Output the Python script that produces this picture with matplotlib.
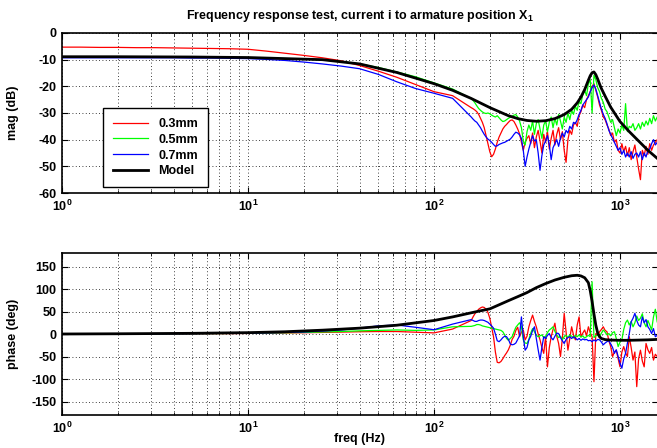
import numpy as np
import matplotlib
matplotlib.use("Agg")
import matplotlib.pyplot as plt
from matplotlib.ticker import FixedLocator, FixedFormatter, LogLocator, NullFormatter

# ---------------- data ----------------
# measurement frequency grid (Hz)
freq = np.concatenate([10 ** np.linspace(0.0, 2.1, 22), 10 ** np.linspace(2.2, 3.2, 101)])

mag_03 = [-5.3, -5.3, -5.4, -5.4, -5.5, -5.5, -5.6, -5.7, -5.8, -5.9, -6.1, -6.8, -7.6, -8.4, -9.3, -10.4,
          -12.2, -14.3, -16.6, -19.3, -22.0, -23.5,
          -28.0, -28.4, -28.9, -29.5, -30.5, -32.0, -33.5, -35.5, -38.5, -41.5,
          -44.5, -46.4, -45.5, -43.5, -41.0, -39.0, -37.5, -36.0, -35.0, -34.3,
          -33.5, -32.8, -32.6, -33.2, -34.5, -36.0, -37.8, -41.0, -44.0, -41.0,
          -39.5, -38.5, -41.5, -37.5, -43.0, -39.0, -36.5, -40.5, -45.0, -38.0,
          -41.0, -37.0, -43.5, -39.5, -36.5, -42.0, -38.0, -35.5, -40.0, -37.0,
          -44.0, -48.5, -40.0, -36.5, -38.0, -34.5, -33.5, -35.0, -31.0, -29.5,
          -27.0, -28.0, -25.0, -23.5, -22.0, -20.0, -19.0, -21.5, -24.0, -27.0,
          -29.0, -31.5, -32.5, -34.5, -36.0, -38.5, -37.5, -41.0, -40.0, -44.0,
          -45.0, -41.5, -44.5, -42.5, -46.0, -43.0, -47.5, -44.5, -42.0, -46.5,
          -51.0, -55.0, -44.0, -46.0, -42.5, -45.5, -41.5, -44.0, -42.0, -41.0, -40.0]

mag_05 = [-9.0, -9.0, -9.0, -9.0, -9.0, -9.0, -9.1, -9.1, -9.1, -9.2, -9.2, -9.4, -9.6, -9.8, -10.1, -10.7,
          -11.6, -12.9, -14.6, -16.4, -18.7, -21.0,
          -24.6, -25.3, -26.2, -27.3, -28.3, -29.0, -29.6, -30.0, -30.2, -30.0,
          -30.3, -30.8, -31.2, -31.5, -31.0, -31.8, -32.6, -33.2, -33.0, -32.5,
          -32.0, -31.6, -31.2, -30.8, -30.6, -31.5, -33.0, -35.5, -40.5, -42.0,
          -37.0, -34.5, -36.5, -33.0, -38.0, -34.0, -32.5, -36.0, -39.5, -34.5,
          -33.0, -37.0, -33.5, -31.5, -35.5, -32.0, -34.5, -30.5, -33.0, -36.0,
          -31.5, -33.5, -30.0, -32.5, -29.0, -30.5, -27.5, -29.0, -25.5, -26.5,
          -23.0, -21.5, -23.5, -19.0, -17.5, -30.0, -15.8, -17.5, -20.5, -22.0,
          -24.5, -26.0, -28.5, -29.5, -31.5, -33.5, -32.5, -35.5, -38.5, -36.0,
          -37.5, -34.5, -36.5, -26.5, -37.0, -35.0, -35.5, -34.0, -36.5, -35.5,
          -34.0, -36.0, -33.5, -35.0, -33.0, -34.5, -32.0, -34.0, -31.0, -33.0, -31.5]

mag_07 = [-9.3, -9.3, -9.3, -9.3, -9.3, -9.3, -9.3, -9.4, -9.4, -9.5, -9.6, -9.9, -10.3, -10.9, -11.6, -12.4,
          -13.4, -15.5, -18.3, -20.8, -22.6, -24.5,
          -31.5, -32.3, -33.0, -33.5, -34.5, -35.5, -36.8, -38.0, -39.0, -39.8,
          -40.3, -41.0, -41.8, -42.5, -42.3, -41.8, -41.5, -41.2, -41.0, -40.6,
          -40.2, -39.8, -39.0, -38.0, -37.2, -37.5, -38.2, -39.5, -44.0, -50.0,
          -46.5, -43.5, -41.0, -38.5, -40.5, -40.0, -45.0, -51.5, -46.0, -42.0,
          -40.5, -38.5, -42.0, -47.5, -43.0, -41.5, -40.0, -42.5, -39.5, -37.5,
          -39.0, -36.5, -37.5, -35.0, -36.0, -33.5, -34.0, -32.5, -30.5, -29.0,
          -27.0, -26.0, -25.0, -24.0, -22.0, -20.5, -19.5, -21.0, -23.5, -26.0,
          -28.5, -30.5, -32.0, -34.0, -36.5, -38.0, -39.5, -41.0, -42.5, -44.0,
          -43.0, -45.5, -44.0, -46.5, -45.0, -46.5, -44.5, -47.0, -45.5, -45.0,
          -46.5, -44.5, -47.5, -45.0, -46.5, -44.0, -43.5, -41.5, -40.0, -42.0, -41.0]

phase_03 = [0, 0, 0.1, 0.2, 0.3, 0.4, 0.5, 0.6, 0.8, 1.0, 1.3, 1.7, 2.2, 2.8, 3.5, 4.2,
            5.0, 5.5, 5.5, 4.0, 2.5, 11,
            30, 38, 45, 50, 55, 58, 60, 59, 55, 48,
            35, 15, -6, -40, -63, -64, -61, -55, -48, -42,
            -35, -25, -12, -5, 8, 15, -6, 4, 9, -13,
            -5, 16, 30, 42, 28, 16, 0, -13, -30, -43,
            -6, -73, -30, -6, 10, 24, -5, -21, -50, -10,
            46, 5, -36, -10, 16, -2, -13, 20, 38, -6,
            2, 9, -4, 16, 3, -6, -106, 1, -3, 5,
            10, 16, 8, 5, -15, -28, -50, -40, -36, -55,
            -73, -40, -28, -42, -50, -6, -30, -58, -40, -117,
            -55, -36, -60, -73, -21, -35, -43, -30, -58, -45, -50]

phase_05 = [0, 0, 0.1, 0.2, 0.3, 0.4, 0.6, 0.8, 1.0, 1.3, 1.7, 2.2, 2.8, 3.5, 4.5, 5.5,
            7, 8, 9, 8, 9, 16,
            17, 18, 19, 21, 21, 20, 18, 17, 16, 15,
            14, 13, 12, 11, 10, 9, 8, 5, -2, -10,
            -14, -10, -6, 5, 15, 20, 25, 16, -13, -20,
            -21, -12, 2, 12, 5, -3, -6, -4, -2, -8,
            -5, 3, 9, 12, 16, 6, -2, -8, -5, -13,
            -6, -3, -8, -2, -5, -9, -3, -6, -2, -7,
            -4, -9, -6, -3, -6, 116, -8, -4, -2, -6,
            2, 9, 4, -2, 1, -4, 3, 5, -10, -28,
            -18, -13, 10, 25, 31, 20, 28, 16, 25, 40,
            30, 35, 45, 25, 16, 30, 20, 9, 38, 55, 27]

phase_07 = [0, 0, 0.1, 0.2, 0.3, 0.5, 0.7, 0.9, 1.2, 1.5, 2.0, 2.6, 3.4, 4.5, 6.5, 9,
            13, 18, 20, 15, 9.5, 22,
            32, 30, 28, 28, 30, 31, 31, 30, 28, 26,
            22, 18, 13, 0, -15, -17, -13, -8, -5, -6,
            -12, -22, -24, -23, -20, -12, -4, 38, -6, -36,
            -30, -13, -5, 8, 16, -10, -35, -58, -30, -6,
            -10, -3, 1, -8, -13, -5, 2, 1, -8, -15,
            -21, -12, -8, -6, -10, -6, -9, -13, -10, -14,
            -11, -13, -12, -15, -14, -17, -13, -16, -12, -13,
            -18, -24, -20, -17, -15, -22, -30, -43, -35, -50,
            -65, -76, -55, -43, -20, 1, 27, 35, 46, 30,
            20, 16, 38, 25, 32, 16, 10, 1, 12, -6, -3]

# model (Hz, dB, deg)
model_freq = [1, 2, 5, 10, 15.8, 25.1, 39.8, 63.1, 100, 126, 158, 200, 251, 282, 316, 355, 398, 447,
              501, 550, 589, 617, 646, 676, 692, 708, 724, 741, 759, 776, 794, 832, 891, 1000,
              1122, 1259, 1413, 1585]
model_mag = [-8.9, -8.9, -9.0, -9.2, -9.6, -10.0, -11.6, -14.8, -19.0, -21.5, -24.5, -28.0, -31.0, -32.1,
             -32.8, -33.1, -32.9, -32.1, -30.6, -28.6, -26.2, -24.0, -21.2, -17.7, -16.0, -14.9, -14.6,
             -15.6, -17.3, -19.1, -20.8, -23.7, -27.8, -33.2, -37.0, -40.5, -44.0, -47.0]
model_phase = [0, 0.5, 1.5, 3, 5, 8.5, 13, 19.5, 30, 38, 47, 56, 74, 83, 92, 103, 112, 120,
               126, 129.5, 130.5, 129, 125, 114, 96, 72, 45, 20, 2, -6, -10, -12.5, -13.5, -14,
               -14, -13.5, -13, -12]

series_labels = ['0.3mm', '0.5mm', '0.7mm', 'Model']
series_colors = ['#ff0000', '#00ff00', '#0000ff', '#000000']
xtick_vals = [1, 10, 100, 1000]
xtick_labels = [r'$\mathbf{10^{0}}$', r'$\mathbf{10^{1}}$', r'$\mathbf{10^{2}}$', r'$\mathbf{10^{3}}$']
mag_ticks = [-60, -50, -40, -30, -20, -10, 0]
phase_ticks = [-150, -100, -50, 0, 50, 100, 150]

title_text = r'Frequency response test, current i to armature position X$_{\mathbf{1}}$'

# ---------------- style ----------------
plt.rcParams['font.family'] = ['Liberation Sans', 'DejaVu Sans']
plt.rcParams['font.weight'] = 'bold'
plt.rcParams['font.size'] = 9
plt.rcParams['axes.unicode_minus'] = False
plt.rcParams['mathtext.fontset'] = 'custom'
plt.rcParams['mathtext.rm'] = 'Liberation Sans:bold'
plt.rcParams['mathtext.bf'] = 'Liberation Sans:bold'
plt.rcParams['mathtext.it'] = 'Liberation Sans:bold'

W, H = 657, 448
fig = plt.figure(figsize=(W / 100, H / 100), dpi=100)
xmax = 1600
axw = (186 * np.log10(xmax)) / W
ax1 = fig.add_axes([62 / W, 1 - 193 / H, axw, 160 / H])
ax2 = fig.add_axes([62 / W, 1 - 415 / H, axw, 162 / H])

mags = [mag_03, mag_05, mag_07]
phases = [phase_03, phase_05, phase_07]
for m, p, c, lab in zip(mags, phases, series_colors[:3], series_labels[:3]):
    ax1.plot(freq, m, color=c, lw=0.9, label=lab)
    ax2.plot(freq, p, color=c, lw=0.9)
ax1.plot(model_freq, model_mag, color=series_colors[3], lw=2.0, label=series_labels[3])
ax2.plot(model_freq, model_phase, color=series_colors[3], lw=2.0)

for ax, yt, ylim, ylab in [(ax1, mag_ticks, (-60, 0), 'mag (dB)'),
                           (ax2, phase_ticks, (-180, 180), 'phase (deg)')]:
    ax.set_xscale('log')
    ax.set_xlim(1, xmax)
    ax.set_ylim(*ylim)
    ax.xaxis.set_major_locator(FixedLocator(xtick_vals))
    ax.xaxis.set_major_formatter(FixedFormatter(xtick_labels))
    ax.xaxis.set_minor_locator(LogLocator(base=10, subs=np.arange(2, 10)))
    ax.xaxis.set_minor_formatter(NullFormatter())
    ax.set_yticks(yt)
    ax.set_yticklabels([str(v) for v in yt])
    ax.grid(True, which='both', axis='x', color='k', linestyle=(0, (1, 3)), lw=0.6)
    ax.grid(True, which='major', axis='y', color='k', linestyle=(0, (1, 3)), lw=0.6)
    ax.tick_params(which='major', direction='in', length=4, width=0.8, labelsize=9, pad=4,
                   top=True, right=True)
    ax.tick_params(which='minor', direction='in', length=2, width=0.6, top=True, right=True)
    for s in ax.spines.values():
        s.set_linewidth(1.2)
    ax.set_ylabel(ylab, fontsize=9, fontweight='bold')
    ax.yaxis.set_label_coords(-0.072, 0.5)

ax2.set_xlabel('freq (Hz)', fontsize=9, fontweight='bold')
ax2.xaxis.set_label_coords(0.5, -0.11)

fig.text(360 / W, 1 - 16 / H, title_text, ha='center', va='center', fontsize=9, fontweight='bold')

leg = ax1.legend(loc='upper left', bbox_to_anchor=(0.069, 0.531), fontsize=9, frameon=True,
                 fancybox=False, framealpha=1, edgecolor='k', borderpad=0.8, labelspacing=0.3,
                 handlelength=2.8, handletextpad=0.8, borderaxespad=0)
leg.get_frame().set_linewidth(1.0)

fig.savefig('out.png', dpi=100)
